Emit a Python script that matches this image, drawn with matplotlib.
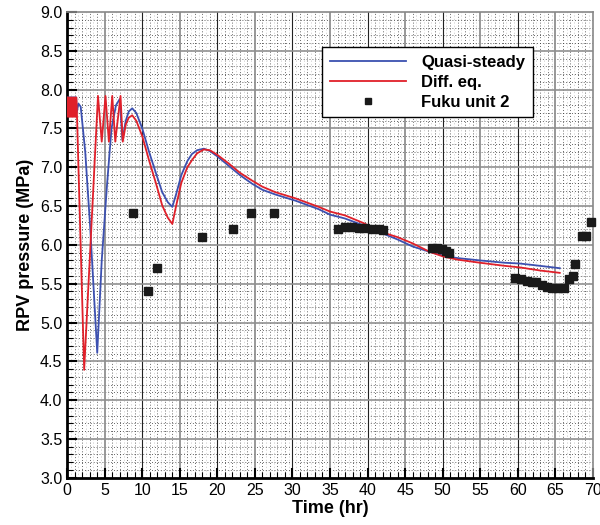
import numpy as np
import matplotlib.pyplot as plt
from matplotlib.ticker import MultipleLocator, FormatStrFormatter

plt.rcParams['font.family'] = ['Liberation Sans', 'DejaVu Sans']

# Quasi-steady model (blue)
qs_t = [0, 1.2, 1.25, 1.5, 1.8, 2.4, 3.06, 4.0, 4.6, 5.3, 5.9, 6.5, 7.0, 7.35,
        7.8, 8.2, 8.66, 9.2, 10.0, 10.9, 11.8, 12.65, 13.4, 14.0, 14.5, 15.2,
        16.0, 16.6, 17.3, 18.2, 19.0, 20.0, 21.5, 23.0, 24.6, 26.0, 27.7, 30.4,
        33.5, 35.0, 37.0, 39.5, 41.7, 44.0, 46.0, 48.3, 50.1, 52.0, 55.0, 58.3,
        60.3, 63.0, 65.6]
qs_p = [7.9, 7.9, 7.7, 7.82, 7.78, 7.2, 6.23, 4.61, 5.8, 6.77, 7.5, 7.8, 7.88, 7.35,
        7.6, 7.72, 7.76, 7.7, 7.5, 7.2, 6.93, 6.68, 6.55, 6.49, 6.65, 6.9,
        7.08, 7.17, 7.22, 7.24, 7.21, 7.14, 7.02, 6.9, 6.79, 6.71, 6.65, 6.57,
        6.46, 6.39, 6.34, 6.25, 6.16, 6.07, 5.98, 5.91, 5.86, 5.83, 5.8, 5.77,
        5.76, 5.73, 5.70]

# Differential equation model (red)
de_t = [0, 0.1, 0.2, 0.3, 0.4, 0.5, 0.6, 0.7, 0.8, 0.9, 1.0, 1.1, 1.2, 1.25,
        2.26, 4.1, 4.6, 5.1, 5.55, 6.0, 6.4, 7.1, 7.4, 7.8, 8.2, 8.66, 9.2,
        10.0, 10.9, 11.8, 12.65, 13.4, 14.0, 14.5, 15.2, 16.0, 16.6, 17.3,
        18.2, 19.0, 20.0, 21.5, 23.0, 24.6, 26.0, 27.7, 30.4, 33.5, 35.0, 37.0,
        39.5, 41.7, 44.0, 46.0, 48.3, 50.1, 52.0, 55.0, 58.3, 60.3, 63.0, 65.6]
de_p = [7.9, 7.65, 7.9, 7.65, 7.9, 7.65, 7.9, 7.65, 7.9, 7.65, 7.9, 7.65, 7.9, 7.85,
        4.39, 7.92, 7.33, 7.92, 7.33, 7.92, 7.33, 7.92, 7.33, 7.55, 7.64, 7.67, 7.6,
        7.4, 7.09, 6.8, 6.51, 6.35, 6.27, 6.5, 6.8, 7.0, 7.09, 7.18,
        7.23, 7.22, 7.16, 7.05, 6.93, 6.83, 6.75, 6.68, 6.60, 6.49, 6.43, 6.38,
        6.28, 6.17, 6.1, 6.02, 5.91, 5.85, 5.81, 5.77, 5.73, 5.71, 5.67, 5.64]

# Fukushima unit 2 measurements
fuku_t = [8.7, 10.7, 12.0, 18.0, 22.1, 24.5, 27.6, 36.1, 37.0, 37.9, 38.8, 39.7,
          40.6, 41.5, 42.1, 48.6, 49.2, 49.9, 50.5, 50.8, 59.7, 60.5, 61.2, 61.9,
          62.5, 63.2, 63.9, 64.6, 65.4, 66.1, 66.8, 67.3, 67.6, 68.5, 69.1, 69.7]
fuku_p = [6.41, 5.41, 5.70, 6.10, 6.20, 6.41, 6.41, 6.20, 6.23, 6.23, 6.22, 6.22,
          6.21, 6.20, 6.19, 5.96, 5.96, 5.95, 5.92, 5.89, 5.57, 5.56, 5.53, 5.52,
          5.52, 5.48, 5.46, 5.45, 5.44, 5.44, 5.56, 5.60, 5.76, 6.12, 6.12, 6.29]

fig = plt.figure(figsize=(6, 5.25), dpi=100)
ax = fig.add_axes([0.112, 0.09, 0.876, 0.887])

ax.set_xlim(0, 70)
ax.set_ylim(3.0, 9.0)

# grid: light dashed half steps in x, dotted minor, solid major
for x in np.arange(0.5, 70, 1.0):
    ax.axvline(x, color='#c8c8c8', lw=0.5, ls=(0, (2, 3)), zorder=0)
for x in range(1, 70):
    if x % 5:
        ax.axvline(x, color='#333333', lw=0.6, ls=(0, (1, 2.5)), zorder=0)
for y in np.arange(3.1, 9.0, 0.1):
    if abs(y * 2 - round(y * 2)) > 0.01:
        ax.axhline(y, color='#333333', lw=0.6, ls=(0, (1, 2.5)), zorder=0)
for x in range(5, 70, 5):
    if x % 10:
        ax.axvline(x, color='#909090', lw=1.3, zorder=0.5)
    else:
        ax.axvline(x, color='#222222', lw=0.8, zorder=0.5)
for y in np.arange(3.5, 9.0, 0.5):
    ax.axhline(y, color='#909090', lw=1.2, zorder=0.5)

ax.plot(qs_t, qs_p, color='#3c50b0', lw=1.3, label='Quasi-steady', zorder=3)
ax.plot(de_t, de_p, color='#e0202a', lw=1.3, label='Diff. eq.', zorder=3)
ax.plot(fuku_t, fuku_p, 's', color='#1a1a1a', ms=5.5, ls='none',
        label='Fuku unit 2', zorder=4, clip_on=False)

ax.xaxis.set_major_locator(MultipleLocator(5))
ax.xaxis.set_minor_locator(MultipleLocator(1))
ax.yaxis.set_major_locator(MultipleLocator(0.5))
ax.yaxis.set_minor_locator(MultipleLocator(0.1))
ax.yaxis.set_major_formatter(FormatStrFormatter('%.1f'))
ax.tick_params(which='both', direction='in', labelsize=11.5)
ax.tick_params(which='major', length=7, width=1.5)
ax.tick_params(which='minor', length=4, width=0.8)

for s in ['left', 'bottom']:
    ax.spines[s].set_linewidth(2)
for s in ['top', 'right']:
    ax.spines[s].set_color('#888888')
    ax.spines[s].set_linewidth(1.2)

ax.set_xlabel('Time (hr)', fontsize=13, fontweight='bold', labelpad=2)
ax.set_ylabel('RPV pressure (MPa)', fontsize=13, fontweight='bold', labelpad=4)

leg = ax.legend(loc='upper left', bbox_to_anchor=(0.485, 0.925), borderaxespad=0,
                frameon=True, fancybox=False, handlelength=4.6, handletextpad=0.9,
                borderpad=0.45, labelspacing=0.3,
                prop={'weight': 'bold', 'size': 12}, markerscale=0.85)
leg.get_frame().set_edgecolor('black')
leg.get_frame().set_linewidth(1.0)
leg.get_frame().set_alpha(1)

fig.savefig('out.png', dpi=100)
